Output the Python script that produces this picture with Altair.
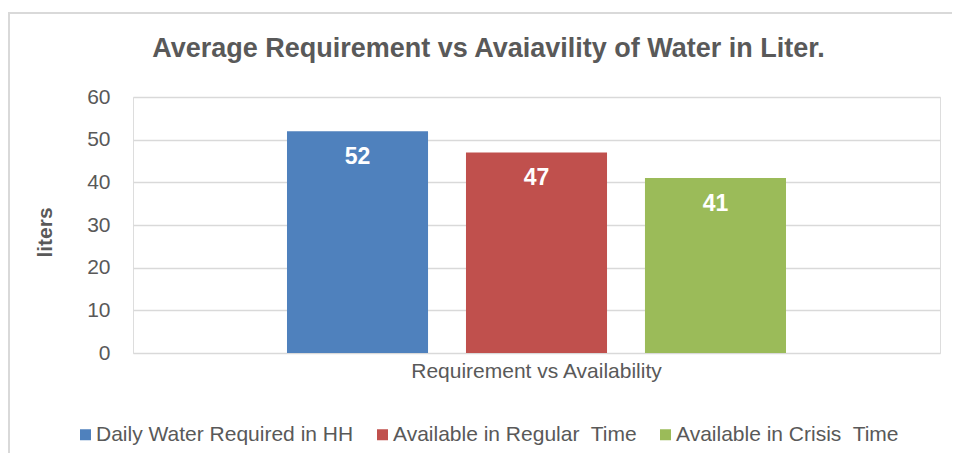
import altair as alt
import pandas as pd

# ---- data ----
categories = ["Requirement vs Availability"]
series = [
    "Daily Water Required in HH",
    "Available in Regular\u00a0 Time",
    "Available in Crisis\u00a0 Time",
]
values = [52, 47, 41]
colors = ["#4F81BD", "#C0504D", "#9BBB59"]
y_ticks = [0, 10, 20, 30, 40, 50, 60]

title_text = "Average Requirement vs Avaiavility of Water in Liter."
y_title = "liters"

df = pd.DataFrame({
    "group": categories * len(series),
    "series": series,
    "liters": values,
})

FONT = "Liberation Sans"
GREY = "#595959"
GRID = "#D9D9D9"
W, H = 807, 256

x_enc = alt.X(
    "group:N",
    title=None,
    scale=alt.Scale(paddingInner=0, paddingOuter=0.3086),
    axis=alt.Axis(
        labelAngle=0, labelFontSize=21, labelColor=GREY, labelFont=FONT,
        domain=False, ticks=False, tickSize=0, labelPadding=7,
        labelBaseline="top", labelLimit=500,
    ),
)
xo_enc = alt.XOffset(
    "series:N", sort=series,
    scale=alt.Scale(paddingInner=0.212, paddingOuter=0),
)
y_enc = alt.Y(
    "liters:Q",
    scale=alt.Scale(domain=[0, 60]),
    axis=alt.Axis(
        values=y_ticks, title=y_title, labelFontSize=21, labelColor=GREY,
        labelFont=FONT, labelPadding=23, ticks=False, tickSize=0, domain=False,
        grid=True, gridColor=GRID, gridWidth=1.5,
        titleFont=FONT, titleFontSize=21, titleFontWeight="bold", titleColor=GREY,
        titleAngle=270, titleX=-88, titleY=135, titleAlign="center",
        titleBaseline="middle",
    ),
)
color_enc = alt.Color(
    "series:N", sort=series,
    scale=alt.Scale(domain=series, range=colors),
    legend=alt.Legend(
        orient="none", legendX=-58, legendY=327, direction="horizontal",
        columns=3, title=None, symbolType="square", symbolSize=121,
        symbolStrokeWidth=0, symbolOpacity=1, labelFontSize=21, labelColor=GREY,
        labelFont=FONT, labelOffset=0, columnPadding=18, padding=0,
        labelLimit=500,
    ),
)

bars = alt.Chart(df).mark_bar().encode(x=x_enc, xOffset=xo_enc, y=y_enc, color=color_enc)

labels = alt.Chart(df).mark_text(
    color="white", font=FONT, fontSize=23, fontWeight="bold",
    baseline="middle", dy=26,
).encode(x=x_enc, xOffset=xo_enc, y=y_enc, text=alt.Text("liters:Q"))

# chart-area frame (only its left and top edges fall inside the page)
border_data = alt.Data(values=[{"b": 1}])
frame = alt.Chart(border_data).mark_rect(
    fill=None, fillOpacity=0, stroke=GRID, strokeWidth=2
).encode(
    x=alt.value(-124), x2=alt.value(W + 24),
    y=alt.value(-84), y2=alt.value(H + 112),
)

chart = alt.layer(frame, bars, labels).properties(
    width=W,
    height=H,
    autosize=alt.AutoSizeParams(type="none"),
    padding={"left": 125, "top": 89, "right": 12, "bottom": 100},
    title=alt.TitleParams(
        title_text, font=FONT, fontSize=27, fontWeight="bold", color=GREY,
        anchor="middle", frame="group", dx=-48, offset=-72,
        baseline="alphabetic",
    ),
).configure_view(stroke=None).configure(background="white")

chart.save("out.html", embed_options={"renderer": "svg", "actions": False})
